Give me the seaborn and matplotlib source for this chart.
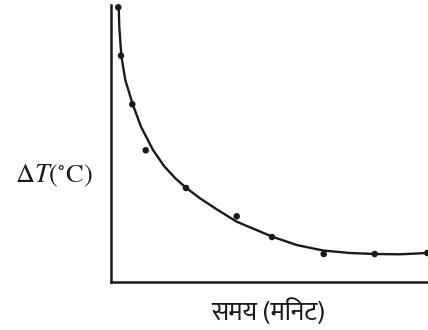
import glob
import matplotlib
matplotlib.use("Agg")
import matplotlib.pyplot as plt
from matplotlib import font_manager as fm
import seaborn as sns
import pandas as pd

# measured points
time_min = [0.73, 1.0, 2.13, 3.47, 7.5, 12.57, 16.1, 21.27, 26.37, 31.63]
delta_t = [27.47, 22.63, 17.77, 13.17, 9.4, 6.57, 4.5, 2.8, 2.8, 2.9]

# smooth curve
curve_time = [0.77, 0.83, 1.03, 1.43, 2.17, 3.0, 4.2, 5.3, 6.45, 7.5, 8.9,
              10.57, 12.57, 16.13, 18.57, 21.2, 23.9, 26.4, 28.9, 31.6]
curve_dt = [27.47, 25.53, 22.63, 20.2, 17.77, 15.53, 13.2, 11.6, 10.35, 9.43,
            8.37, 7.27, 6.03, 4.53, 3.7, 3.15, 2.9, 2.8, 2.77, 2.9]

x_label = "समय (मिनट)"
y_label = r"$\Delta T(^{\circ}\mathrm{C})$"

sns.set_theme(style="white")
plt.rcParams["mathtext.fontset"] = "stix"

# find a Devanagari-capable font
deva_font = None
for name in ["NotoSansDevanagari-Regular", "Mukta-Regular", "Hind-Regular",
             "Kalam-Regular", "NotoSansDevanagariUI-Regular", "Mukta-Medium",
             "EkMukta-Regular", "Amiko-Regular", "Jaldi-Regular"]:
    hits = glob.glob(f"/usr/share/fonts/**/{name}.ttf", recursive=True)
    if hits:
        deva_font = fm.FontProperties(fname=hits[0], size=18.5)
        break

df_pts = pd.DataFrame({"t": time_min, "dT": delta_t})
df_curve = pd.DataFrame({"t": curve_time, "dT": curve_dt})

fig = plt.figure(figsize=(4.28, 3.30), dpi=100)
ax = fig.add_axes([111 / 428, 48 / 330, 317 / 428, 277 / 330])

sns.lineplot(data=df_curve, x="t", y="dT", ax=ax, color="#1a1a1a",
             linewidth=1.7, sort=False, estimator=None)
ax.lines[-1].set_solid_joinstyle("round")
sns.scatterplot(data=df_pts, x="t", y="dT", ax=ax, color="#1a1a1a",
                s=22, edgecolor="none", clip_on=False, zorder=3)

ax.set_xlim(0, 31.7)
ax.set_ylim(0, 27.7)
ax.set_xticks([])
ax.set_yticks([])
ax.set_xlabel("")
ax.set_ylabel("")
for side in ["top", "right"]:
    ax.spines[side].set_visible(False)
for side in ["left", "bottom"]:
    ax.spines[side].set_color("#1a1a1a")
    ax.spines[side].set_linewidth(1.8)

fig.text(54 / 428, 1 - 176 / 330, y_label, ha="center", va="center",
         fontsize=19, color="#1a1a1a")
if deva_font is not None:
    fig.text(268 / 428, 1 - 312 / 330, x_label, ha="center", va="center",
             fontproperties=deva_font, color="#1a1a1a")
else:
    fig.text(268 / 428, 1 - 312 / 330, x_label, ha="center", va="center",
             fontsize=18, color="#1a1a1a")

fig.savefig("out.png", dpi=100)
